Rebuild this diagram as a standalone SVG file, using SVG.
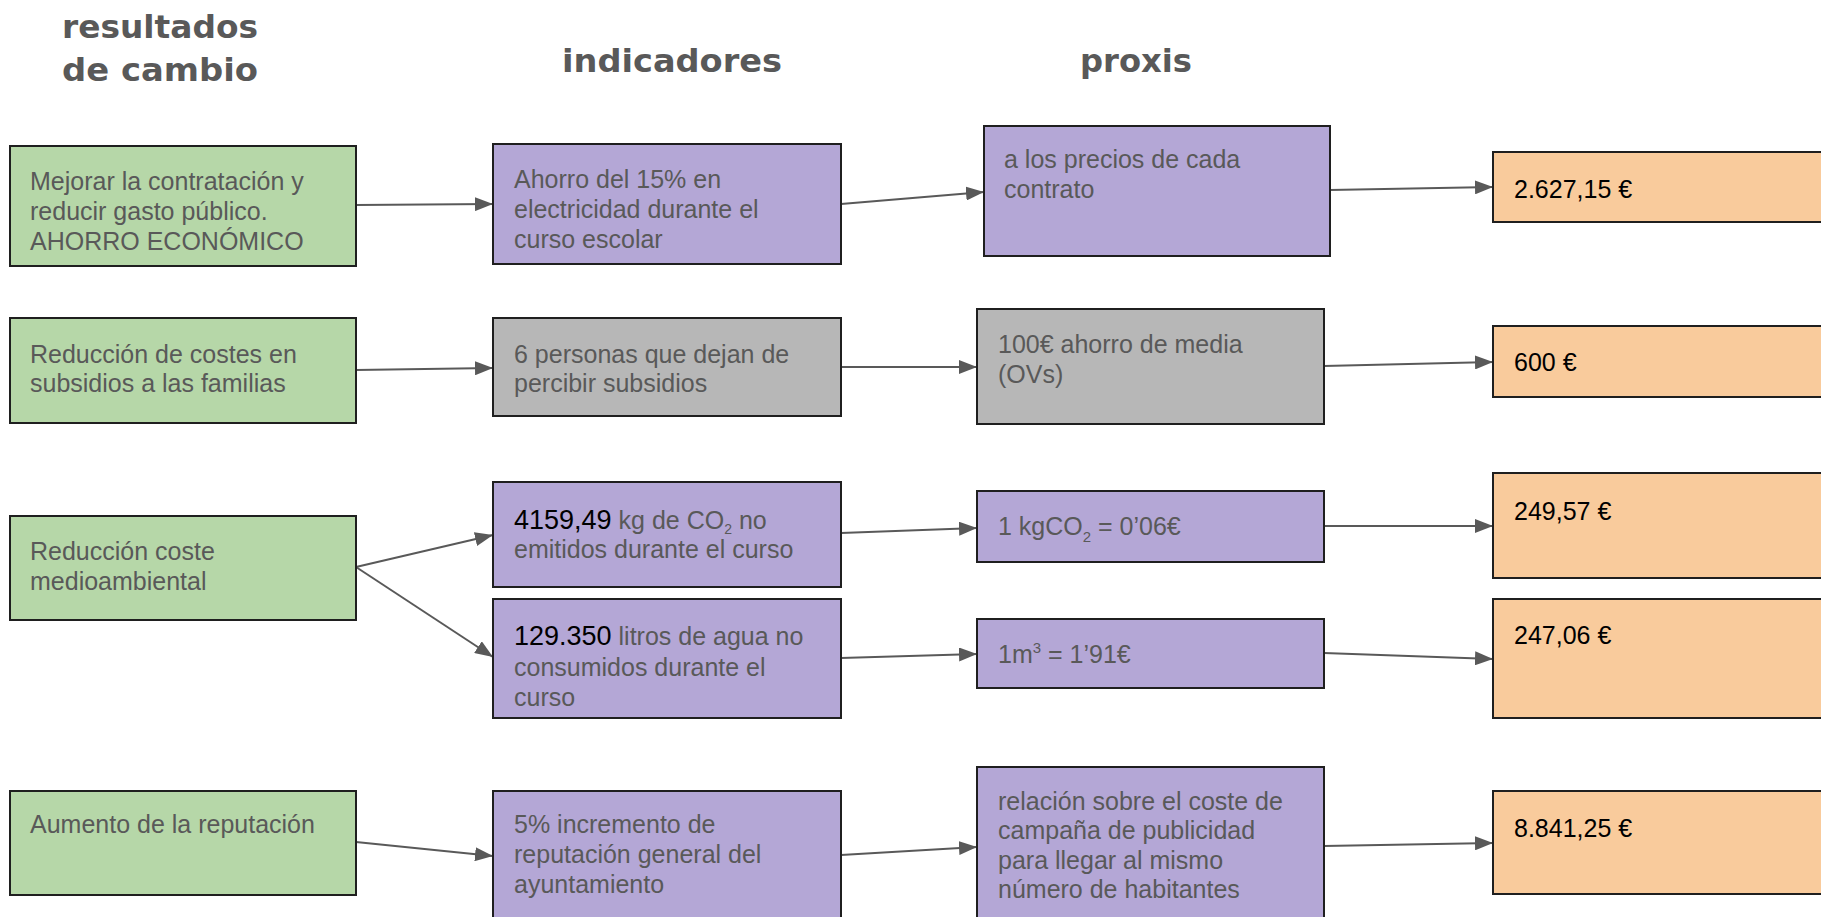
<svg xmlns="http://www.w3.org/2000/svg" width="1821" height="917" viewBox="0 0 1821 917">
<style>
.hdr{font-family:"DejaVu Sans","Open Sans",sans-serif;font-weight:700;font-size:32px;fill:#595959}
.box{stroke:#1f1f1f;stroke-width:2}
.g{fill:#b6d7a8}.p{fill:#b4a7d6}.s{fill:#b7b7b7}.o{fill:#f9cb9c}
.t{font-family:"Liberation Sans",Arial,sans-serif;font-size:25px;fill:#595959}
.k{fill:#000}
.big{font-size:27px;fill:#000}
.c{fill:none;stroke:#595959;stroke-width:2}
</style>
<defs>
<marker id="ah" markerUnits="userSpaceOnUse" markerWidth="18" markerHeight="14" refX="18" refY="7" orient="auto">
<path d="M0,0 L18,7 L0,14 z" fill="#595959"/>
</marker>
</defs>
<rect width="1821" height="917" fill="#ffffff"/>
<g id="headers">
<text class="hdr" x="62" y="38" textLength="196" lengthAdjust="spacingAndGlyphs">resultados</text>
<text class="hdr" x="62" y="81" textLength="196" lengthAdjust="spacingAndGlyphs">de cambio</text>
<text class="hdr" x="562" y="72" textLength="220" lengthAdjust="spacingAndGlyphs">indicadores</text>
<text class="hdr" x="1080" y="72" textLength="112" lengthAdjust="spacingAndGlyphs">proxis</text>
</g>
<g id="connectors">
<line class="c" x1="356" y1="205" x2="493" y2="204" marker-end="url(#ah)"/>
<line class="c" x1="841" y1="204" x2="984" y2="192" marker-end="url(#ah)"/>
<line class="c" x1="1330" y1="190" x2="1493" y2="187" marker-end="url(#ah)"/>
<line class="c" x1="356" y1="370" x2="493" y2="368" marker-end="url(#ah)"/>
<line class="c" x1="841" y1="367" x2="977" y2="367" marker-end="url(#ah)"/>
<line class="c" x1="1324" y1="366" x2="1493" y2="362" marker-end="url(#ah)"/>
<line class="c" x1="356" y1="567" x2="493" y2="535" marker-end="url(#ah)"/>
<line class="c" x1="356" y1="567" x2="493" y2="657" marker-end="url(#ah)"/>
<line class="c" x1="841" y1="533" x2="977" y2="528" marker-end="url(#ah)"/>
<line class="c" x1="1324" y1="526" x2="1493" y2="526" marker-end="url(#ah)"/>
<line class="c" x1="841" y1="658" x2="977" y2="654" marker-end="url(#ah)"/>
<line class="c" x1="1324" y1="653" x2="1493" y2="659" marker-end="url(#ah)"/>
<line class="c" x1="356" y1="842" x2="493" y2="856" marker-end="url(#ah)"/>
<line class="c" x1="841" y1="855" x2="977" y2="847" marker-end="url(#ah)"/>
<line class="c" x1="1324" y1="846" x2="1493" y2="843" marker-end="url(#ah)"/>
</g>
<g id="g1"><rect class="box g" x="10" y="146" width="346" height="120"/>
<text class="t" x="30" y="190">Mejorar la contratación y</text>
<text class="t" x="30" y="220">reducir gasto público.</text>
<text class="t" x="30" y="250">AHORRO ECONÓMICO</text></g>
<g id="g2"><rect class="box g" x="10" y="318" width="346" height="105"/>
<text class="t" x="30" y="363">Reducción de costes en</text>
<text class="t" x="30" y="392">subsidios a las familias</text></g>
<g id="g3"><rect class="box g" x="10" y="516" width="346" height="104"/>
<text class="t" x="30" y="560">Reducción coste</text>
<text class="t" x="30" y="590">medioambiental</text></g>
<g id="g4"><rect class="box g" x="10" y="791" width="346" height="104"/>
<text class="t" x="30" y="833">Aumento de la reputación</text></g>
<g id="i1"><rect class="box p" x="493" y="144" width="348" height="120"/>
<text class="t" x="514" y="188">Ahorro del 15% en</text>
<text class="t" x="514" y="218">electricidad durante el</text>
<text class="t" x="514" y="248">curso escolar</text></g>
<g id="i2"><rect class="box s" x="493" y="318" width="348" height="98"/>
<text class="t" x="514" y="363">6 personas que dejan de</text>
<text class="t" x="514" y="392">percibir subsidios</text></g>
<g id="i3"><rect class="box p" x="493" y="482" width="348" height="105"/>
<text class="t" x="514" y="529"><tspan class="big">4159,49</tspan> kg de CO<tspan font-size="14" dy="5">2</tspan><tspan dy="-5"> no</tspan></text>
<text class="t" x="514" y="558">emitidos durante el curso</text></g>
<g id="i4"><rect class="box p" x="493" y="599" width="348" height="119"/>
<text class="t" x="514" y="645"><tspan class="big">129.350</tspan> litros de agua no</text>
<text class="t" x="514" y="676">consumidos durante el</text>
<text class="t" x="514" y="706">curso</text></g>
<g id="i5"><rect class="box p" x="493" y="791" width="348" height="140"/>
<text class="t" x="514" y="833">5% incremento de</text>
<text class="t" x="514" y="863">reputación general del</text>
<text class="t" x="514" y="893">ayuntamiento</text></g>
<g id="p1"><rect class="box p" x="984" y="126" width="346" height="130"/>
<text class="t" x="1004" y="168">a los precios de cada</text>
<text class="t" x="1004" y="198">contrato</text></g>
<g id="p2"><rect class="box s" x="977" y="309" width="347" height="115"/>
<text class="t" x="998" y="353">100€ ahorro de media</text>
<text class="t" x="998" y="383">(OVs)</text></g>
<g id="p3"><rect class="box p" x="977" y="491" width="347" height="71"/>
<text class="t" x="998" y="535">1 kgCO<tspan font-size="15" dy="7">2</tspan><tspan dy="-7"> = 0’06€</tspan></text></g>
<g id="p4"><rect class="box p" x="977" y="619" width="347" height="69"/>
<text class="t" x="998" y="663">1m<tspan font-size="15" dy="-10">3</tspan><tspan dy="10"> = 1’91€</tspan></text></g>
<g id="p5"><rect class="box p" x="977" y="767" width="347" height="165"/>
<text class="t" x="998" y="810">relación sobre el coste de</text>
<text class="t" x="998" y="839">campaña de publicidad</text>
<text class="t" x="998" y="869">para llegar al mismo</text>
<text class="t" x="998" y="898">número de habitantes</text></g>
<g id="o1"><rect class="box o" x="1493" y="152" width="340" height="70"/>
<text class="t k" x="1514" y="198">2.627,15 €</text></g>
<g id="o2"><rect class="box o" x="1493" y="326" width="340" height="71"/>
<text class="t k" x="1514" y="371">600 €</text></g>
<g id="o3"><rect class="box o" x="1493" y="473" width="340" height="105"/>
<text class="t k" x="1514" y="520">249,57 €</text></g>
<g id="o4"><rect class="box o" x="1493" y="599" width="340" height="119"/>
<text class="t k" x="1514" y="644">247,06 €</text></g>
<g id="o5"><rect class="box o" x="1493" y="791" width="340" height="103"/>
<text class="t k" x="1514" y="837">8.841,25 €</text></g>
</svg>
